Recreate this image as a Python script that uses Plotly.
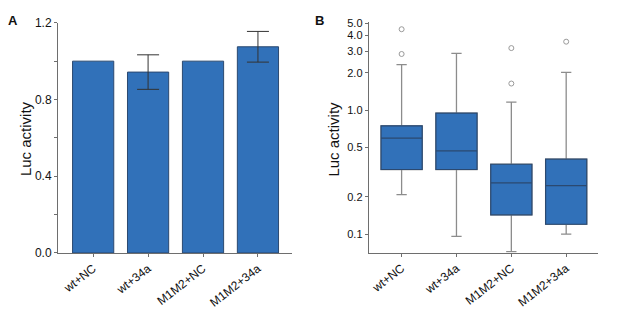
import plotly.graph_objects as go

categories = ["wt+NC", "wt+34a", "M1M2+NC", "M1M2+34a"]

# Panel A: bar means; error (SD) only shown for the treated groups
bar_values = [1.0, 0.943, 1.0, 1.075]
err_x = [1, 3]
err_mean = [0.943, 1.075]
err_sd = [0.09, 0.08]

# Panel B: box statistics
box_q1 = [0.332, 0.332, 0.143, 0.120]
box_median = [0.594, 0.469, 0.259, 0.246]
box_q3 = [0.748, 0.948, 0.366, 0.402]
box_low = [0.208, 0.096, 0.0721, 0.100]
box_high = [2.33, 2.87, 1.16, 2.02]
outlier_x = [0, 0, 2, 2, 3]
outlier_y = [2.84, 4.5, 1.64, 3.17, 3.57]

b_tickvals = [0.1, 0.2, 0.5, 1.0, 2.0, 3.0, 4.0, 5.0]
b_ticktext = ["0.1", "0.2", "0.5", "1.0", "2.0", "3.0", "4.0", "5.0"]

FILL = "#3171b9"
EDGE = "#2b4970"
AXIS = "#6e6e6e"
FONT = "Liberation Sans, Arial, sans-serif"

xpos = list(range(len(categories)))

fig = go.Figure()

fig.add_trace(go.Bar(
    x=xpos, y=bar_values, width=0.75,
    marker=dict(color=FILL, line=dict(color=EDGE, width=1)),
    xaxis="x", yaxis="y", showlegend=False,
))
fig.add_trace(go.Scatter(
    x=err_x, y=err_mean, mode="markers", marker=dict(size=0.1, color="rgba(0,0,0,0)"),
    error_y=dict(type="data", array=err_sd, visible=True,
                 color="#333333", thickness=1, width=11),
    xaxis="x", yaxis="y", showlegend=False, hoverinfo="skip",
))

# whisker boxes (grey whiskers)
fig.add_trace(go.Box(
    x=xpos, q1=box_q1, median=box_median, q3=box_q3,
    lowerfence=box_low, upperfence=box_high,
    width=0.75, whiskerwidth=0.25,
    fillcolor=FILL, line=dict(color="#8c8c8c", width=1.3),
    boxpoints=False, xaxis="x2", yaxis="y2", showlegend=False,
))
# boxes with dark outline and median
fig.add_trace(go.Box(
    x=xpos, q1=box_q1, median=box_median, q3=box_q3,
    lowerfence=box_q1, upperfence=box_q3,
    width=0.75, whiskerwidth=0,
    fillcolor=FILL, line=dict(color=EDGE, width=1.2),
    boxpoints=False, xaxis="x2", yaxis="y2", showlegend=False,
))
fig.add_trace(go.Scatter(
    x=outlier_x, y=outlier_y, mode="markers",
    marker=dict(symbol="circle-open", size=5, color="#9a9a9a", line=dict(width=1)),
    xaxis="x2", yaxis="y2", showlegend=False,
))

axis_common = dict(showline=True, linecolor=AXIS, linewidth=1, showgrid=False,
                   zeroline=False, ticks="outside", tickcolor=AXIS, ticklen=3)
tf12 = dict(family=FONT, size=12, color="#111")

fig.update_layout(
    width=617, height=326,
    margin=dict(l=0, r=0, t=0, b=0),
    paper_bgcolor="white", plot_bgcolor="white",
    boxmode="overlay",
    font=dict(family=FONT, color="#111"),
    xaxis=dict(domain=[58/617, 292/617], range=[-0.64, 3.62],
               tickvals=xpos, ticktext=categories, tickangle=-38,
               anchor="y", tickfont=tf12, **axis_common),
    yaxis=dict(domain=[(326-257)/326, (326-16.5)/326], range=[0, 1.2],
               tickvals=[0, 0.2, 0.4, 0.6, 0.8, 1.0, 1.2],
               ticktext=["0.0", "", "0.4", "", "0.8", "", "1.2"],
               anchor="x", tickfont=tf12, **axis_common),
    xaxis2=dict(domain=[368.7/617, 598/617], range=[-0.6, 3.58],
                tickvals=xpos, ticktext=categories, tickangle=-38,
                anchor="y2", tickfont=tf12, **axis_common),
    yaxis2=dict(domain=[(326-256.7)/326, (326-16)/326], type="log",
                range=[-1.15, 0.709], tickvals=b_tickvals, ticktext=b_ticktext,
                anchor="x2", tickfont=dict(family=FONT, size=11, color="#111"),
                **axis_common),
    annotations=[
        dict(text="<b>A</b>", x=6/617, y=1-4/326, xref="paper", yref="paper",
             xanchor="left", yanchor="top", showarrow=False,
             font=dict(family=FONT, size=13, color="#111")),
        dict(text="<b>B</b>", x=313/617, y=1-4/326, xref="paper", yref="paper",
             xanchor="left", yanchor="top", showarrow=False,
             font=dict(family=FONT, size=13, color="#111")),
        dict(text="Luc activity", x=25/617, y=1-138/326, xref="paper", yref="paper",
             xanchor="center", yanchor="middle", textangle=-90, showarrow=False,
             font=dict(family=FONT, size=15, color="#111")),
        dict(text="Luc activity", x=333.5/617, y=1-138/326, xref="paper", yref="paper",
             xanchor="center", yanchor="middle", textangle=-90, showarrow=False,
             font=dict(family=FONT, size=15, color="#111")),
    ],
)

fig.write_html("out.html", config={"displayModeBar": False},
               post_script="document.body.style.margin='0';document.body.style.overflow='hidden';")
